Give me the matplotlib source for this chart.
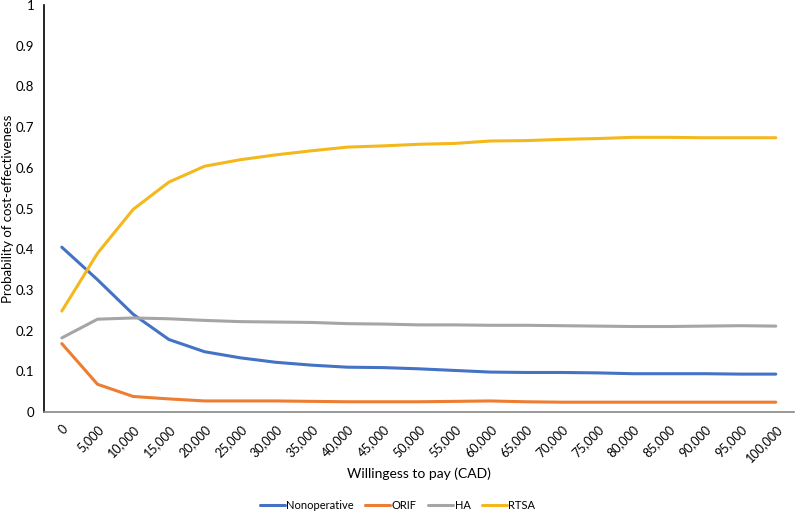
import numpy as np
import matplotlib.pyplot as plt

# willingness to pay thresholds (CAD)
wtp = ['0', '5,000', '10,000', '15,000', '20,000', '25,000', '30,000', '35,000',
       '40,000', '45,000', '50,000', '55,000', '60,000', '65,000', '70,000',
       '75,000', '80,000', '85,000', '90,000', '95,000', '100,000']

nonoperative = [0.405, 0.325, 0.240, 0.178, 0.148, 0.133, 0.122, 0.115, 0.110, 0.109,
                0.106, 0.102, 0.098, 0.097, 0.097, 0.096, 0.094, 0.094, 0.094, 0.093, 0.093]
orif = [0.168, 0.068, 0.038, 0.032, 0.027, 0.027, 0.027, 0.026, 0.025, 0.025,
        0.025, 0.026, 0.027, 0.025, 0.024, 0.024, 0.024, 0.024, 0.024, 0.024, 0.024]
ha = [0.182, 0.228, 0.231, 0.229, 0.225, 0.222, 0.221, 0.220, 0.217, 0.216,
      0.214, 0.214, 0.213, 0.213, 0.212, 0.211, 0.210, 0.210, 0.211, 0.212, 0.211]
rtsa = [0.248, 0.390, 0.498, 0.565, 0.604, 0.620, 0.632, 0.642, 0.651, 0.654,
        0.658, 0.660, 0.666, 0.667, 0.670, 0.672, 0.675, 0.675, 0.674, 0.674, 0.674]

series = [('Nonoperative', nonoperative, '#4472C4'),
          ('ORIF', orif, '#ED7D31'),
          ('HA', ha, '#A5A5A5'),
          ('RTSA', rtsa, '#F4B81C')]

plt.rcParams['font.family'] = ['Lato', 'DejaVu Sans']

fig = plt.figure(figsize=(7.95, 5.13), dpi=100)
ax = fig.add_axes([0.0553, 0.197, 0.943, 0.793])

x = np.arange(len(wtp))
for name, vals, col in series:
    ax.plot(x, vals, color=col, lw=2.2, label=name, solid_capstyle='round')

ax.set_xlim(-0.5, len(wtp) - 0.5)
ax.set_ylim(0, 1)
ax.set_yticks(np.arange(0, 1.01, 0.1))
ax.set_yticklabels(['0'] + [f'{v:.1f}' for v in np.arange(0.1, 0.95, 0.1)] + ['1'])
ax.set_xticks(x)
ax.set_xticklabels(wtp, rotation=45, ha='right', rotation_mode='anchor', fontsize=9)
ax.tick_params(axis='y', length=0, labelsize=9.5, pad=7)
ax.tick_params(axis='x', length=0, pad=8)

for s in ['top', 'right']:
    ax.spines[s].set_visible(False)
ax.spines['left'].set_color('black')
ax.spines['left'].set_linewidth(1.2)
ax.spines['bottom'].set_color('#888888')
ax.spines['bottom'].set_linewidth(1.2)

ax.set_ylabel('Probability of cost-effectiveness', fontsize=9.5)
ax.yaxis.set_label_coords(-0.040, 0.5)
fig.text(0.527, 0.076, 'Willingess to pay (CAD)', ha='center', va='center', fontsize=10)

fig.legend(loc='center', bbox_to_anchor=(0.5, 0.014), ncol=4, frameon=False,
           fontsize=8, handlelength=2.25, handletextpad=0.15, columnspacing=1.0)

fig.savefig('out.png', dpi=100)
